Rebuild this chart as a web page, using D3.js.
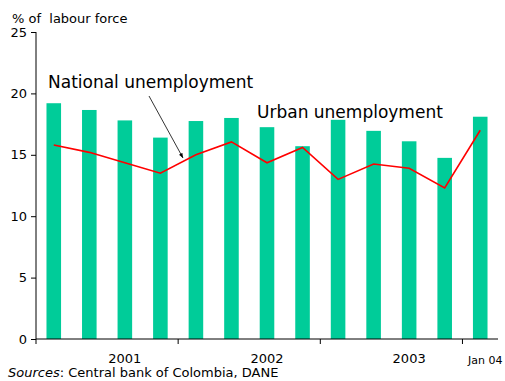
<!DOCTYPE html>
<html>
<head>
<meta charset="utf-8">
<script src="https://cdn.jsdelivr.net/npm/d3@7"></script>
<style>
  body { margin: 0; background: #fff; }
  svg { display: block; font-family: "DejaVu Sans", Verdana, sans-serif; }
</style>
</head>
<body>
<svg id="chart" width="505" height="381"></svg>
<script>
// Períodos trimestrais (2001 T1 .. 2003 T4, Jan 04)
const periods = ["01Q1", "01Q2", "01Q3", "01Q4", "02Q1", "02Q2", "02Q3", "02Q4",
                 "03Q1", "03Q2", "03Q3", "03Q4", "Jan04"];
// Desemprego urbano (barras)
const urban = [19.2, 18.65, 17.8, 16.4, 17.75, 18.0, 17.25, 15.7, 17.85, 16.95, 16.1, 14.75, 18.1];
// Desemprego nacional (linha)
const national = [15.8, 15.2, 14.35, 13.5, 15.0, 16.05, 14.35, 15.6, 13.0, 14.25, 13.9, 12.3, 17.0];
// Rótulos do eixo x: [período onde fica o rótulo, texto]
const yearLabels = [["01Q3", "2001"], ["02Q3", "2002"], ["03Q3", "2003"]];
const yTicks = [0, 5, 10, 15, 20, 25];

const svg = d3.select("#chart");
const margin = { left: 36, right: 7, top: 32, bottom: 42 };
const width = 505, height = 381;

const x = d3.scaleBand()
  .domain(periods)
  .range([margin.left, width - margin.right])
  .paddingInner(0.59)
  .paddingOuter(0.295);

const y = d3.scaleLinear()
  .domain([0, 25])
  .range([height - margin.bottom, margin.top]);

// Barras (urbano)
svg.append("g")
  .selectAll("rect")
  .data(urban)
  .join("rect")
  .attr("x", (d, i) => x(periods[i]))
  .attr("y", d => y(d))
  .attr("width", x.bandwidth())
  .attr("height", d => y(0) - y(d))
  .attr("fill", "#00cc99");

// Linha (nacional)
const line = d3.line()
  .x((d, i) => x(periods[i]) + x.bandwidth() / 2)
  .y(d => y(d));

svg.append("path")
  .datum(national)
  .attr("fill", "none")
  .attr("stroke", "#ff0000")
  .attr("stroke-width", 1.6)
  .attr("d", line);

// Eixo y
const yAxis = svg.append("g")
  .attr("transform", `translate(${margin.left},0)`)
  .call(d3.axisLeft(y).tickValues(yTicks).tickSize(5).tickPadding(4));
yAxis.selectAll("text").attr("font-size", 13).attr("font-family", "DejaVu Sans, sans-serif").attr("fill", "#000");
yAxis.selectAll("line, path").attr("stroke", "#000");
yAxis.select(".domain").attr("d", `M0,${y(25)}V${y(0)}`);

// Eixo x: linha base e marcas entre os anos
const step = x.step();
const x0 = margin.left;
const tickXs = [0, 4, 8, 12].map(k => x0 + k * step);
svg.append("line")
  .attr("x1", x0).attr("x2", width - margin.right)
  .attr("y1", y(0)).attr("y2", y(0))
  .attr("stroke", "#000");
svg.append("g")
  .selectAll("line")
  .data(tickXs)
  .join("line")
  .attr("x1", d => d).attr("x2", d => d)
  .attr("y1", y(0)).attr("y2", y(0) + 5)
  .attr("stroke", "#000");

svg.append("g")
  .selectAll("text")
  .data(yearLabels)
  .join("text")
  .attr("x", d => x(d[0]) + x.bandwidth() / 2)
  .attr("y", 363)
  .attr("text-anchor", "middle")
  .attr("font-size", 13)
  .text(d => d[1]);

svg.append("text")
  .attr("x", x("Jan04") + x.bandwidth() / 2 + 5)
  .attr("y", 364)
  .attr("text-anchor", "middle")
  .attr("font-size", 11)
  .text("Jan 04");

// Título do eixo y
svg.append("text")
  .attr("x", 12)
  .attr("y", 23)
  .attr("font-size", 13)
  .style("white-space", "pre")
  .attr("xml:space", "preserve")
  .text("% of  labour force");

// Anotações
svg.append("text")
  .attr("x", 48)
  .attr("y", 88)
  .attr("font-size", 17)
  .text("National unemployment");

svg.append("text")
  .attr("x", 257)
  .attr("y", 118)
  .attr("font-size", 17)
  .text("Urban unemployment");

svg.append("defs").append("marker")
  .attr("id", "arrow")
  .attr("viewBox", "0 0 10 10")
  .attr("refX", 10).attr("refY", 5)
  .attr("markerWidth", 6).attr("markerHeight", 6)
  .attr("orient", "auto")
  .append("path")
  .attr("d", "M0,1L10,5L0,9z")
  .attr("fill", "#000");

svg.append("line")
  .attr("x1", 149).attr("y1", 96)
  .attr("x2", 183).attr("y2", 158)
  .attr("stroke", "#000")
  .attr("stroke-width", 0.8)
  .attr("marker-end", "url(#arrow)");

// Fonte
const src = svg.append("text")
  .attr("x", 8)
  .attr("y", 377)
  .attr("font-size", 13);
src.append("tspan").attr("font-style", "italic").text("Sources");
src.append("tspan").text(": Central bank of Colombia, DANE");
</script>
</body>
</html>
